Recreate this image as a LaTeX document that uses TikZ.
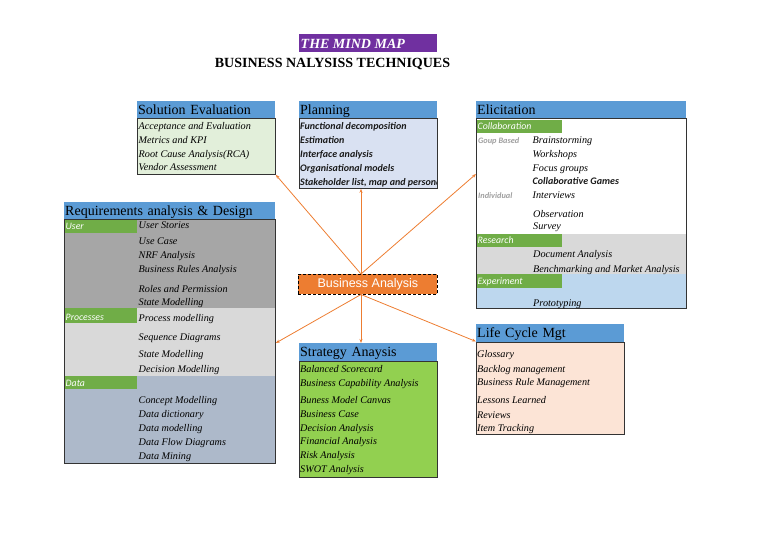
\documentclass[tikz,border=0pt]{standalone}
\usepackage{fontspec}
\setmainfont{Liberation Serif}
\newfontfamily\calfont{Carlito}
\newfontfamily\arialf{Liberation Sans}
\usetikzlibrary{arrows.meta}
\definecolor{hdrblue}{HTML}{5B9BD5}
\definecolor{segreen}{HTML}{E2EFDA}
\definecolor{plblue}{HTML}{D9E1F2}
\definecolor{bandgreen}{HTML}{70AD47}
\definecolor{sagreen}{HTML}{92D050}
\definecolor{peach}{HTML}{FCE4D6}
\definecolor{grayA}{HTML}{A6A6A6}
\definecolor{grayB}{HTML}{D9D9D9}
\definecolor{bluegray}{HTML}{ADB9CA}
\definecolor{ltblue}{HTML}{BDD7EE}
\definecolor{baorange}{HTML}{ED7D31}
\definecolor{titlepurple}{HTML}{7030A0}
\definecolor{lblgray}{HTML}{A0A0A0}
\tikzset{
  hdr/.style={fill=hdrblue, anchor=north west, inner xsep=1pt, inner ysep=0pt,
    minimum height=17.5pt, text height=10pt, text depth=0pt, align=left,
    font=\fontsize{14}{14}\selectfont},
  bodybox/.style={draw=black!80, line width=0.8pt, anchor=north west, inner sep=0pt},
  secfill/.style={anchor=north west, inner sep=0pt, draw=none},
  band/.style={fill=bandgreen, anchor=north west, inner sep=0pt, draw=none},
  item/.style={anchor=base west, inner sep=0pt, text=black, font=\fontsize{10.2}{12}\selectfont\itshape},
  sitem/.style={anchor=base west, inner sep=0pt, text=black!90, font=\calfont\fontsize{10}{12}\selectfont\bfseries\itshape},
  blabel/.style={anchor=base west, inner sep=0pt, text=white, font=\calfont\fontsize{9.8}{10}\selectfont\itshape},
  glabel/.style={anchor=base west, inner sep=0pt, text=lblgray, font=\calfont\fontsize{8.3}{9}\selectfont\bfseries\itshape},
  conn/.style={draw=baorange, line width=0.8pt, -{Stealth[length=4pt,width=3pt]}}
}
\begin{document}
\begin{tikzpicture}[x=1pt,y=-1pt]
\useasboundingbox (0,0) rectangle (768,543);
% title
\node[fill=titlepurple, anchor=north west, minimum width=138pt, minimum height=18pt, inner sep=0pt] (tbox) at (299,34) {};
\node[anchor=base west, inner sep=0pt, text=white, font=\fontsize{14}{14}\selectfont\bfseries\itshape] (ttxt) at (300.5,48.5) {THE MIND MAP};
\node[anchor=base, inner sep=0pt, font=\fontsize{14}{14}\selectfont\bfseries] (title) at (332.5,67) {BUSINESS NALYSISS TECHNIQUES};

% Solution Evaluation
\node[hdr, text width=136pt] (seh) at (137,101) {Solution Evaluation};
\node[bodybox, fill=segreen, minimum width=138pt, minimum height=56pt] (seb) at (137,118) {};
\node[item] (se1) at (138.5,129.5) {Acceptance and Evaluation};
\node[item] (se2) at (138.5,143.5) {Metrics and KPI};
\node[item] (se3) at (138.5,157.5) {Root Cause Analysis(RCA)};
\node[item] (se4) at (138.5,170.5) {Vendor Assessment};

% Planning
\node[hdr, text width=136pt] (plh) at (299,101) {Planning};
\node[bodybox, fill=plblue, minimum width=138pt, minimum height=70pt] (plb) at (299,118) {};
\begin{scope}
\clip (299,118) rectangle (437,188);
\node[sitem] (pl1) at (300,129.5) {Functional decomposition};
\node[sitem] (pl2) at (300,143.5) {Estimation};
\node[sitem] (pl3) at (300,157.5) {Interface analysis};
\node[sitem] (pl4) at (300,171.5) {Organisational models};
\node[sitem] (pl5) at (300,185) {Stakeholder list, map and personas};
\end{scope}
\node[bodybox, minimum width=138pt, minimum height=70pt] (plbb) at (299,118) {};

% Elicitation
\node[hdr, text width=208pt] (elh) at (476,101) {Elicitation};
\node[secfill, fill=white, minimum width=210pt, minimum height=116pt] (els0) at (476,118) {};
\node[secfill, fill=grayB, minimum width=210pt, minimum height=40pt] (els1) at (476,234) {};
\node[secfill, fill=ltblue, minimum width=210pt, minimum height=34pt] (els2) at (476,274) {};
\node[band, minimum width=86pt, minimum height=13.5pt] (elg0) at (476,119.5) {};
\node[band, minimum width=86pt, minimum height=13pt] (elg1) at (476,234) {};
\node[band, minimum width=86pt, minimum height=14pt] (elg2) at (476,274) {};
\node[bodybox, minimum width=210pt, minimum height=190pt] (elb) at (476,118) {};
\node[blabel] (ell1) at (477.5,129.5) {Collaboration};
\node[glabel] (ell2) at (478,143) {Goup Based};
\node[glabel] (ell3) at (478,198) {Individual};
\node[blabel] (ell4) at (477.5,243.5) {Research};
\node[blabel] (ell5) at (477.5,284.5) {Experiment};
\node[item] (el1) at (532.5,143.5) {Brainstorming};
\node[item] (el2) at (532.5,157) {Workshops};
\node[item] (el3) at (532.5,171) {Focus groups};
\node[sitem] (el4) at (532.5,184.5) {Collaborative Games};
\node[item] (el5) at (532.5,198) {Interviews};
\node[item] (el6) at (533,217.5) {Observation};
\node[item] (el7) at (533,229.5) {Survey};
\node[item] (el8) at (533,257) {Document Analysis};
\node[item] (el9) at (533,272) {Benchmarking and Market Analysis};
\node[item] (el10) at (533,306) {Prototyping};

% Requirements analysis & Design
\node[hdr, text width=209pt] (rqh) at (64,202) {Requirements analysis \& Design};
\node[secfill, fill=grayA, minimum width=211pt, minimum height=89pt] (rqs0) at (64,219) {};
\node[secfill, fill=grayB, minimum width=211pt, minimum height=68pt] (rqs1) at (64,308) {};
\node[secfill, fill=bluegray, minimum width=211pt, minimum height=87pt] (rqs2) at (64,376) {};
\node[band, minimum width=73pt, minimum height=13.5pt] (rqg0) at (64,219.5) {};
\node[band, minimum width=73pt, minimum height=15pt] (rqg1) at (64,308) {};
\node[band, minimum width=73pt, minimum height=13pt] (rqg2) at (64,376) {};
\node[bodybox, minimum width=211pt, minimum height=244pt] (rqb) at (64,219) {};
\node[blabel] (rql1) at (65.5,229.5) {User};
\node[blabel] (rql2) at (65.5,320.5) {Processes};
\node[blabel] (rql3) at (65.5,386) {Data};
\node[item] (rq1) at (138.5,228.5) {User Stories};
\node[item] (rq2) at (138.5,244.5) {Use Case};
\node[item] (rq3) at (138.5,258.5) {NRF Analysis};
\node[item] (rq4) at (138.5,272.5) {Business Rules Analysis};
\node[item] (rq5) at (138.5,292) {Roles and Permission};
\node[item] (rq6) at (138.5,305.5) {State Modelling};
\node[item] (rq7) at (138.5,321) {Process modelling};
\node[item] (rq8) at (138.5,340) {Sequence Diagrams};
\node[item] (rq9) at (138.5,357) {State Modelling};
\node[item] (rq10) at (138.5,372) {Decision Modelling};
\node[item] (rq11) at (138.5,403.5) {Concept Modelling};
\node[item] (rq12) at (138.5,417.5) {Data dictionary};
\node[item] (rq13) at (138.5,431) {Data modelling};
\node[item] (rq14) at (138.5,445) {Data Flow Diagrams};
\node[item] (rq15) at (138.5,459) {Data Mining};

% Business Analysis
\node[fill=baorange, draw=black, densely dashed, line width=0.8pt, minimum width=139pt, minimum height=20pt,
  anchor=north west, inner sep=0pt, text=white, font=\arialf\fontsize{12.5}{12.5}\selectfont] (ba) at (298,274) {Business Analysis};

% Strategy Anaysis
\node[hdr, text width=136pt] (sah) at (299,343) {Strategy Anaysis};
\node[bodybox, fill=sagreen, minimum width=138pt, minimum height=116pt] (sab) at (299,360.5) {};
\node[item] (sa1) at (300,372.5) {Balanced Scorecard};
\node[item] (sa2) at (300,386) {Business Capability Analysis};
\node[item] (sa3) at (300,403.5) {Buness Model Canvas};
\node[item] (sa4) at (300,417.5) {Business Case};
\node[item] (sa5) at (300,431) {Decision Analysis};
\node[item] (sa6) at (300,444) {Financial Analysis};
\node[item] (sa7) at (300,458.5) {Risk Analysis};
\node[item] (sa8) at (300,472) {SWOT Analysis};

% Life Cycle Mgt
\node[hdr, text width=146pt] (lch) at (476,324) {Life Cycle Mgt};
\node[bodybox, fill=peach, minimum width=148pt, minimum height=92.5pt] (lcb) at (476,341.5) {};
\node[item] (lc1) at (477,357.5) {Glossary};
\node[item] (lc2) at (477,372.5) {Backlog management};
\node[item] (lc3) at (477,385.5) {Business Rule Management};
\node[item] (lc4) at (477,403.5) {Lessons Learned};
\node[item] (lc5) at (477,418) {Reviews};
\node[item] (lc6) at (477,431) {Item Tracking};

% connectors
\coordinate (bat) at (361,274);
\coordinate (bab) at (361,294.5);
\coordinate (elin) at (elb.west |- 0,174);
\coordinate (rqin) at (rqb.east |- 0,343);
\draw[conn] (bat) -- (seb.south east);
\draw[conn] (bat) -- (bat |- plb.south);
\draw[conn] (bat) -- (elin);
\draw[conn] (bab) -- (rqin);
\draw[conn] (bab) -- (bab |- sah.north);
\draw[conn] (bab) -- (lcb.north west);
\end{tikzpicture}
\end{document}
